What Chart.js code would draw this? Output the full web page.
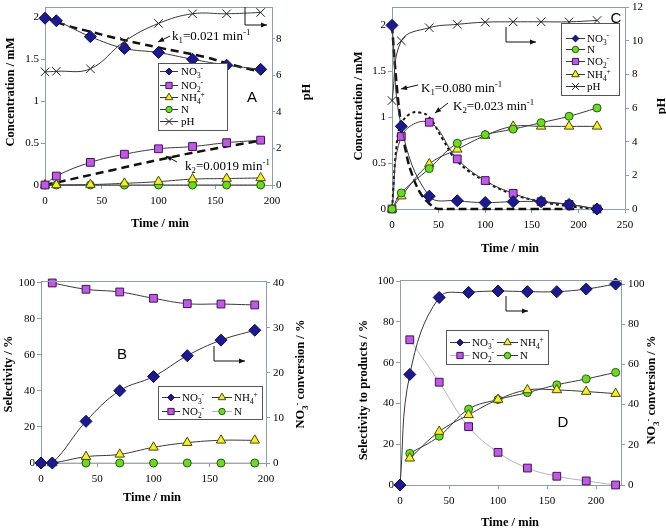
<!DOCTYPE html>
<html><head><meta charset="utf-8">
<script src="https://cdn.jsdelivr.net/npm/chart.js@4.4.1/dist/chart.umd.min.js"></script>
<style>
html,body{margin:0;padding:0;background:#fff;overflow:hidden;width:666px;height:528px}
canvas{position:absolute}
</style></head><body>
<canvas id="cA" width="333" height="264" style="left:0;top:0"></canvas>
<canvas id="cC" width="333" height="264" style="left:333px;top:0"></canvas>
<canvas id="cB" width="333" height="264" style="left:0;top:264px"></canvas>
<canvas id="cD" width="333" height="264" style="left:333px;top:264px"></canvas>
<script>
// ---------- DATA ----------
// Panel A
const timeA = [0,10,40,70,100,130,160,190];
const no3A  = [1.99,1.96,1.77,1.63,1.58,1.50,1.43,1.38];
const no2A  = [0,0.107,0.27,0.367,0.432,0.459,0.505,0.535];
const nh4A  = [0,0,0.005,0.02,0.04,0.07,0.077,0.084];
const nA    = [0,0,0,0,0,0,0,0];
const phA   = [6.19,6.22,6.36,7.86,8.84,9.37,9.37,9.44];
const fitTimeA1 = [0,20,40,60,100,140,166,190];
const fitNo3A   = [2.0,1.90,1.83,1.76,1.64,1.53,1.43,1.35];
const fitTimeA2 = [0,10,60,100,140,190];
const fitNo2A   = [0,0.03,0.18,0.30,0.41,0.53];
// Panel C
const timeC = [0,10,40,70,100,130,160,190,220];
const no3C  = [2.0,0.90,0.14,0.09,0.07,0.08,0.08,0.05,0];
const nC    = [0,0.175,0.44,0.716,0.81,0.87,0.94,1.01,1.10];
const no2C  = [0,0.79,0.945,0.545,0.31,0.17,0.08,0.05,0];
const nh4C  = [0,0.14,0.49,0.65,0.80,0.90,0.90,0.90,0.90];
const phC   = [6.44,9.99,10.77,10.97,11.1,11.12,11.12,11.12,11.2];
const fitTimeC1 = [0,5,10,15,20,30,40,50,100,150,200];
const fitNo3C   = [2.0,1.35,0.90,0.62,0.42,0.18,0.06,0,0,0,0];
const fitTimeC2 = [0,5,10,20,30,40,55,70,100,130,160,190,220];
const fitNo2C   = [0,0.70,0.93,1.04,1.05,1.0,0.75,0.52,0.30,0.16,0.08,0.03,0];
// Panel B
const timeB = [0,10,40,70,100,130,160,190];
const no3B  = [0,0,9.26,16.07,19.2,23.85,27.3,29.5];     // conversion (right axis)
const no2B  = [null,100,96.5,95,91.5,88.5,88.3,87.8];
const nh4B  = [0,0,3.5,4.8,8.7,11.3,12.6,12.6];
const nB    = [0,0,0,0,0,0,0,0];
// Panel D
const timeD = [0,10,40,70,100,130,160,190,220];
const no3D  = [0,55,93.3,95.8,96.5,96.2,96.2,97.5,100];  // conversion (right axis)
const no2D  = [null,71.2,50.4,28.6,16.0,8.3,4.3,2.0,0];
const nh4D  = [null,13.1,26.2,34.4,41.9,46.6,46.6,45.8,44.8];
const nD    = [null,15.5,23.9,37.2,41.9,45.3,49.1,52.0,55.2];
// Tick labels
const xTicksA = [0,50,100,150,200];
const yTicksA = [0,0.5,1,1.5,2];
const pTicksA = [0,2,4,6,8];
const xTicksC = [0,50,100,150,200,250];
const yTicksC = [0,0.5,1,1.5,2];
const pTicksC = [0,2,4,6,8,10,12];
const xTicksB = [0,50,100,150,200];
const yTicksB = [0,20,40,60,80,100];
const rTicksB = [0,10,20,30,40];
const xTicksD = [0,50,100,150,200];
const yTicksD = [0,20,40,60,80,100];
const rTicksD = [0,20,40,60,80,100];

// ---------- STYLE ----------
const AX = '#8da0a3';
const SERIF = '"Liberation Serif","Times New Roman",serif';
const SANS = '"Liberation Sans",Arial,sans-serif';
const W = 333, H = 264;
const ST = {
  no3:{shape:'rectRot', r:6, bg:'#1b1a8f', bc:'#0c0c55'},
  no2:{shape:'rect', r:5.5, bg:'#c05ae6', bc:'#3e1452'},
  nh4:{shape:'triangle', r:5.5, bg:'#f5ef1e', bc:'#474710'},
  n:{shape:'circle', r:4, bg:'#66dd22', bc:'#2a5a10'},
  ph:{shape:'crossRot', r:6, bg:'#222', bc:'#222'}
};
const LINE = '#383838', LIGHT = '#b4b4b4';

function pts(times, vals){
  const out=[]; times.forEach((t,i)=>{ if(vals[i]!==null) out.push({x:t,y:vals[i]}); }); return out;
}
function ds(label, times, vals, st, axis, lineColor){
  return {label, data:pts(times,vals), yAxisID:axis, pointStyle:st.shape, pointRadius:st.r,
    pointBackgroundColor:st.bg, pointBorderColor:st.bc, pointBorderWidth:1,
    borderColor:lineColor||LINE, borderWidth:1, tension:0.4, clip:false, fill:false};
}
function fit(label, times, vals, dash, width){
  return {label, data:pts(times,vals), yAxisID:'y', pointRadius:0, borderColor:'#111',
    borderWidth:width, borderDash:dash, tension:0.4, clip:false, fill:false};
}
function tickSet(vals){ return s=>{ s.ticks = vals.map(v=>({value:v})); }; }
function makeScales(g){
  const font = {family:SERIF, size:11};
  const grid = {display:true, drawOnChartArea:false, drawTicks:true, tickLength:4, tickColor:AX, color:AX};
  const border = {display:true, color:AX, width:1};
  return {
    x:{type:'linear', min:0, max:g.xmax, afterBuildTicks:tickSet(g.xt),
       afterFit:s=>{s.height=H-g.B; s.paddingLeft=0; s.paddingRight=0;},
       grid, border, ticks:{font, color:'#000', padding:g.xpad||6, maxRotation:0, autoSkip:false, callback:v=>String(v)}},
    y:{type:'linear', position:'left', min:0, max:g.ymax, afterBuildTicks:tickSet(g.yt),
       afterFit:s=>{s.width=g.L; s.paddingTop=0; s.paddingBottom=0;},
       grid, border, ticks:{font, color:'#000', padding:2, autoSkip:false, callback:v=>String(v)}},
    y2:{type:'linear', position:'right', min:0, max:g.y2max, afterBuildTicks:tickSet(g.y2t),
       afterFit:s=>{s.width=W-g.R; s.paddingTop=0; s.paddingBottom=0;},
       grid:Object.assign({},grid,{tickLength:g.rtl||4}), border, ticks:{font, color:'#000', padding:g.rpad||3, autoSkip:false, callback:v=>String(v)}}
  };
}

// ---------- drawing helpers ----------
function parseRich(s){
  const parts=[]; const re=/\{([_^])([^}]*)\}/g; let last=0,m;
  while((m=re.exec(s))){ if(m.index>last) parts.push({t:s.slice(last,m.index),k:''}); parts.push({t:m[2],k:m[1]}); last=re.lastIndex; }
  if(last<s.length) parts.push({t:s.slice(last),k:''});
  return parts;
}
function rich(ctx, s, x, y, o){
  const size=o.size, fam=o.family||SERIF, w=o.weight||'normal';
  const parts=parseRich(s);
  const fontFor=k=>`${w} ${k?size*0.68:size}px ${fam}`;
  let total=0; parts.forEach(p=>{ctx.font=fontFor(p.k); p.w=ctx.measureText(p.t).width; total+=p.w;});
  ctx.save(); ctx.translate(x,y); if(o.rot) ctx.rotate(o.rot);
  let cx = o.align==='center'? -total/2 : 0;
  ctx.fillStyle='#000'; ctx.textBaseline='alphabetic'; ctx.textAlign='left';
  const base=size*0.35;
  parts.forEach(p=>{ ctx.font=fontFor(p.k); const dy=p.k==='_'?size*0.25:p.k==='^'?-size*0.38:0; ctx.fillText(p.t,cx,base+dy); cx+=p.w; });
  ctx.restore();
}
function marker(ctx, st, x, y, sc){
  const r=st.r*sc; ctx.save(); ctx.fillStyle=st.bg; ctx.strokeStyle=st.bc; ctx.lineWidth=1; ctx.beginPath();
  const s=r*Math.SQRT1_2;
  if(st.shape==='rectRot'){ ctx.moveTo(x-s,y); ctx.lineTo(x,y+s); ctx.lineTo(x+s,y); ctx.lineTo(x,y-s); ctx.closePath(); ctx.fill(); ctx.stroke(); }
  else if(st.shape==='rect'){ ctx.rect(x-s,y-s,2*s,2*s); ctx.fill(); ctx.stroke(); }
  else if(st.shape==='circle'){ ctx.arc(x,y,r,0,Math.PI*2); ctx.fill(); ctx.stroke(); }
  else if(st.shape==='triangle'){ let a=0; for(let i=0;i<3;i++){ const px=x+Math.sin(a)*r, py=y-Math.cos(a)*r; i?ctx.lineTo(px,py):ctx.moveTo(px,py); a+=Math.PI*2/3; } ctx.closePath(); ctx.fill(); ctx.stroke(); }
  else if(st.shape==='crossRot'){ ctx.moveTo(x-s,y-s); ctx.lineTo(x+s,y+s); ctx.moveTo(x-s,y+s); ctx.lineTo(x+s,y-s); ctx.stroke(); }
  ctx.restore();
}
function arrow(ctx, p){
  ctx.save(); ctx.strokeStyle='#111'; ctx.fillStyle='#111'; ctx.lineWidth=1; ctx.beginPath();
  p.forEach((q,i)=> i?ctx.lineTo(q[0],q[1]):ctx.moveTo(q[0],q[1])); ctx.stroke();
  const [x1,y1]=p[p.length-2],[x2,y2]=p[p.length-1]; const a=Math.atan2(y2-y1,x2-x1), L=6, Wd=2.5;
  ctx.beginPath(); ctx.moveTo(x2,y2);
  ctx.lineTo(x2-L*Math.cos(a)+Wd*Math.sin(a), y2-L*Math.sin(a)-Wd*Math.cos(a));
  ctx.lineTo(x2-L*Math.cos(a)-Wd*Math.sin(a), y2-L*Math.sin(a)+Wd*Math.cos(a));
  ctx.closePath(); ctx.fill(); ctx.restore();
}
function legend(ctx, lg){
  const [x,y,w,h]=lg.box;
  ctx.save(); ctx.fillStyle='#fff'; ctx.fillRect(x,y,w,h);
  ctx.strokeStyle='#555'; ctx.lineWidth=1; ctx.strokeRect(x+0.5,y+0.5,w,h);
  lg.items.forEach(it=>{
    ctx.strokeStyle=it.line||LINE; ctx.lineWidth=1; ctx.beginPath(); ctx.moveTo(it.x0,it.y+0.5); ctx.lineTo(it.x1,it.y+0.5); ctx.stroke();
    marker(ctx, it.st, (it.x0+it.x1)/2, it.y+0.5, 0.8);
    rich(ctx, it.text, it.tx, it.y, {size:11});
  });
  ctx.restore();
}
const DECO = {};
Chart.register({
  id:'deco',
  afterDraw(chart){
    const d=DECO[chart.canvas.id]; if(!d) return;
    const ctx=chart.ctx, ca=chart.chartArea;
    ctx.save();
    ctx.strokeStyle=AX; ctx.lineWidth=1; ctx.beginPath();
    const ty=Math.round(ca.top)+0.5; ctx.moveTo(ca.left,ty); ctx.lineTo(ca.right,ty); ctx.stroke();
    if(d.legend) legend(ctx,d.legend);
    d.titles.forEach(t=>rich(ctx,t.text,t.x,t.y,{size:12.5,weight:'bold',align:'center',rot:t.rot||0}));
    (d.texts||[]).forEach(t=>rich(ctx,t.text,t.x,t.y,{size:t.size||13,family:t.family,align:t.align}));
    (d.arrows||[]).forEach(a=>arrow(ctx,a));
    ctx.restore();
  }
});
function makeChart(id, g, datasets){
  return new Chart(document.getElementById(id), {
    type:'line',
    data:{datasets},
    options:{responsive:false, animation:false, events:[],
      layout:{padding:{top:g.T,left:0,right:0,bottom:0}},
      plugins:{legend:{display:false}, tooltip:{enabled:false}},
      scales:makeScales(g)}
  });
}
const R90 = -Math.PI/2;

// ---------- Panel A ----------
DECO.cA = {
  titles:[{text:'Concentration / mM',x:10,y:92,rot:R90},{text:'Time / min',x:160,y:223},{text:'pH',x:306,y:92,rot:R90}],
  texts:[{text:'k{_1}=0.021 min{^-1}',x:172,y:35},{text:'k{_2}=0.0019 min{^-1}',x:185,y:165},
         {text:'A',x:252,y:97,size:15,family:SANS,align:'center'}],
  arrows:[[[170,36],[158,42]],[[177,162],[166,156]],[[245,7],[245,25],[267,25]]],
  legend:{box:[158,63,69,67],items:[
    {x0:160,x1:178,y:71,tx:181,text:'NO{_3}{^-}',st:ST.no3},
    {x0:160,x1:178,y:85,tx:181,text:'NO{_2}{^-}',st:ST.no2},
    {x0:160,x1:178,y:97,tx:181,text:'NH{_4}{^+}',st:ST.nh4},
    {x0:160,x1:178,y:109,tx:181,text:'N',st:ST.n},
    {x0:160,x1:178,y:121,tx:181,text:'pH',st:ST.ph}]}
};
makeChart('cA', {L:45,R:272,T:0,B:185,xmax:200,xt:xTicksA,ymax:2.124,yt:yTicksA,y2max:9.74,y2t:pTicksA,rtl:3,rpad:1}, [
  ds('NO3-',timeA,no3A,ST.no3,'y'),
  ds('NO2-',timeA,no2A,ST.no2,'y'),
  ds('NH4+',timeA,nh4A,ST.nh4,'y'),
  ds('N',timeA,nA,ST.n,'y'),
  ds('pH',timeA,phA,ST.ph,'y2'),
  fit('k1 fit',fitTimeA1,fitNo3A,[8,5],2.5),
  fit('k2 fit',fitTimeA2,fitNo2A,[8,5],2.5)
]);

// ---------- Panel C ----------
DECO.cC = {
  titles:[{text:'Concentration / mM',x:25,y:106,rot:R90},{text:'Time / min',x:177,y:248},{text:'pH',x:328,y:106,rot:R90}],
  texts:[{text:'K{_1}=0.080 min{^-1}',x:88,y:87},{text:'K{_2}=0.023 min{^-1}',x:120,y:105},
         {text:'C',x:283,y:18,size:15,family:SANS,align:'center'}],
  arrows:[[[85,85],[68,89]],[[115,103],[102,113]],[[173,27],[173,42],[203,42]]],
  legend:{box:[228,23,58,72],items:[
    {x0:233,x1:252,y:38,tx:254,text:'NO{_3}{^-}',st:ST.no3},
    {x0:233,x1:252,y:49,tx:254,text:'N',st:ST.n},
    {x0:233,x1:252,y:61,tx:254,text:'NO{_2}{^-}',st:ST.no2},
    {x0:233,x1:252,y:74,tx:254,text:'NH{_4}{^+}',st:ST.nh4},
    {x0:233,x1:252,y:86,tx:254,text:'pH',st:ST.ph}]}
};
makeChart('cC', {L:59,R:292,T:4,B:209,xmax:250,xt:xTicksC,ymax:2.2,yt:yTicksC,y2max:12,y2t:pTicksC}, [
  ds('NO3-',timeC,no3C,ST.no3,'y'),
  ds('N',timeC,nC,ST.n,'y'),
  ds('NO2-',timeC,no2C,ST.no2,'y'),
  ds('NH4+',timeC,nh4C,ST.nh4,'y'),
  ds('pH',timeC,phC,ST.ph,'y2'),
  fit('K1 fit',fitTimeC1,fitNo3C,[8,4],2.5),
  fit('K2 fit',fitTimeC2,fitNo2C,[3,3],2)
]);

// ---------- Panel B ----------
DECO.cB = {
  titles:[{text:'Selectivity / %',x:8,y:110,rot:R90},{text:'Time / min',x:152,y:233},
          {text:'NO{_3}{^-} conversion / %',x:300,y:110,rot:R90}],
  texts:[{text:'B',x:122,y:90,size:15,family:SANS,align:'center'}],
  arrows:[[[214,82],[214,97],[245,97]]],
  legend:{box:[158,122,104,33],items:[
    {x0:162,x1:180,y:133,tx:182,text:'NO{_3}{^-}',st:ST.no3},
    {x0:212,x1:232,y:133,tx:234,text:'NH{_4}{^+}',st:ST.nh4},
    {x0:162,x1:180,y:147,tx:182,text:'NO{_2}{^-}',st:ST.no2},
    {x0:212,x1:232,y:147,tx:234,text:'N',st:ST.n,line:LIGHT}]}
};
makeChart('cB', {L:41,R:266,T:17,B:199,xmax:200,xt:xTicksB,ymax:101.1,yt:yTicksB,y2max:40.44,y2t:rTicksB}, [
  ds('NO3-',timeB,no3B,ST.no3,'y2'),
  ds('NO2-',timeB,no2B,ST.no2,'y'),
  ds('NH4+',timeB,nh4B,ST.nh4,'y'),
  ds('N',timeB,nB,ST.n,'y',LIGHT)
]);

// ---------- Panel D ----------
DECO.cD = {
  titles:[{text:'Selectivity to products / %',x:30,y:126,rot:R90},{text:'Time / min',x:177,y:258},
          {text:'NO{_3}{^-} conversion / %',x:318,y:126,rot:R90}],
  texts:[{text:'D',x:230,y:158,size:15,family:SANS,align:'center'}],
  arrows:[[[173,32],[173,47],[195,47]]],
  legend:{box:[113,66,102,34],items:[
    {x0:117,x1:137,y:78,tx:139,text:'NO{_3}{^-}',st:ST.no3},
    {x0:164,x1:185,y:78,tx:187,text:'NH{_4}{^+}',st:ST.nh4},
    {x0:117,x1:137,y:91,tx:139,text:'NO{_2}{^-}',st:ST.no2,line:LIGHT},
    {x0:164,x1:185,y:91,tx:187,text:'N',st:ST.n}]}
};
makeChart('cD', {L:67,R:288,T:16,B:221,xmax:225.5,xt:xTicksD,ymax:100.5,yt:yTicksD,y2max:102,y2t:rTicksD}, [
  ds('NO3-',timeD,no3D,ST.no3,'y2'),
  ds('NH4+',timeD,nh4D,ST.nh4,'y'),
  ds('NO2-',timeD,no2D,ST.no2,'y',LIGHT),
  ds('N',timeD,nD,ST.n,'y')
]);
</script>
</body></html>
